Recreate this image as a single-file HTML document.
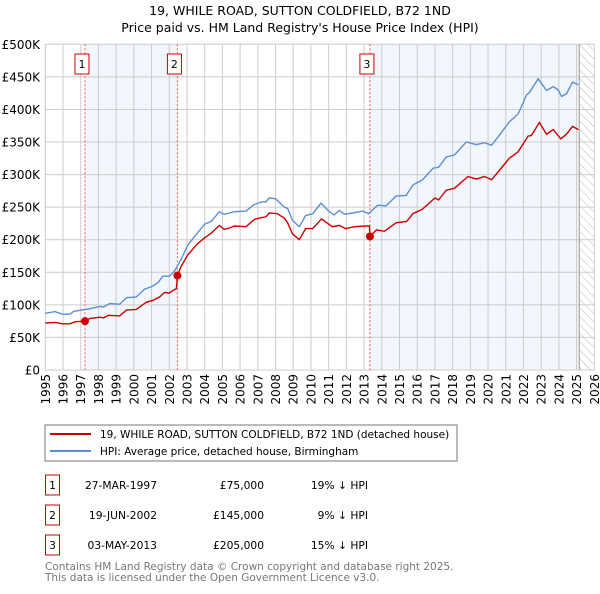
<!DOCTYPE html>
<html><head><meta charset="utf-8"><style>
body{margin:0;background:#fff;width:600px;height:590px;overflow:hidden;font-family:"DejaVu Sans","Liberation Sans",sans-serif;}
svg text{font-family:"DejaVu Sans","Liberation Sans",sans-serif;}
</style></head><body>
<svg id="c" width="600" height="590">
<defs><pattern id="hatch" width="6" height="6" patternUnits="userSpaceOnUse" patternTransform="rotate(-45)"><line x1="0" y1="0" x2="0" y2="6" stroke="#bbb" stroke-width="1"/></pattern></defs>
<text x="300" y="15" text-anchor="middle" font-size="12.5">19, WHILE ROAD, SUTTON COLDFIELD, B72 1ND</text>
<text x="300" y="32" text-anchor="middle" font-size="12.5">Price paid vs. HM Land Registry's House Price Index (HPI)</text>
<g id="plot"></g>
<rect x="45" y="425" width="412" height="36" fill="#fff" stroke="#777"/>
<line x1="50" y1="434" x2="91" y2="434" stroke="#cc0000" stroke-width="2"/>
<text x="100" y="438" font-size="10.5">19, WHILE ROAD, SUTTON COLDFIELD, B72 1ND (detached house)</text>
<line x1="50" y1="451" x2="91" y2="451" stroke="#5b8fd4" stroke-width="2"/>
<text x="100" y="455" font-size="10.5">HPI: Average price, detached house, Birmingham</text>
<g id="table" font-size="10.7"></g>
<text x="45" y="570" font-size="10.5" fill="#777">Contains HM Land Registry data © Crown copyright and database right 2025.</text>
<text x="45" y="581" font-size="10.5" fill="#777">This data is licensed under the Open Government Licence v3.0.</text>
</svg>
<script>
const hpiYears=[1995,1995.54,1996,1996.4,1996.6,1997.05,1997.5,1998.08,1998.3,1998.64,1999.2,1999.58,2000.14,2000.6,2001,2001.36,2001.64,2002,2002.3,2002.67,2003.05,2003.4,2004,2004.36,2004.83,2005.1,2005.4,2005.67,2006.33,2006.8,2007.2,2007.45,2007.65,2008,2008.5,2008.68,2008.96,2009.34,2009.7,2010.1,2010.57,2011.04,2011.3,2011.6,2011.9,2012.36,2012.92,2013.25,2013.77,2014.25,2014.8,2015.38,2015.75,2016.3,2016.9,2017.2,2017.64,2018.1,2018.77,2019.34,2019.8,2020.2,2020.66,2021.2,2021.7,2022.17,2022.36,2022.83,2023.3,2023.68,2023.96,2024.15,2024.43,2024.77,2025.1];
const hpiValues=[87,89.6,85.5,86,90,92,94,97.5,97,102,101,111,112,124,128,134,144,144,152,170,192,204,224,228,243,239,241,243,244,254,258,258,264,263,250,248,230,220,237,240,256,243,238,245,239,241,244,240,253,252,267,268,284,292,310,311,327,330,350,346,349,345,361,381,393,422,427,447,429,435,430,420,424,442,438];
const priceYears=[1995,1995.54,1996,1996.4,1996.67,1997.24,1997.5,1998.08,1998.3,1998.55,1999.2,1999.58,2000.14,2000.7,2001.08,2001.45,2001.73,2002,2002.2,2002.4,2002.46,2002.67,2003.05,2003.6,2004,2004.36,2004.83,2005.1,2005.4,2005.67,2006.33,2006.8,2007.2,2007.45,2007.65,2008.1,2008.5,2008.68,2008.96,2009.34,2009.7,2010.1,2010.6,2011.2,2011.6,2011.95,2012.45,2013.1,2013.3,2013.33,2013.7,2014.15,2014.8,2015.4,2015.75,2016.3,2017,2017.2,2017.64,2018.1,2018.87,2019.34,2019.8,2020.2,2020.66,2021.2,2021.7,2022.26,2022.45,2022.9,2023.3,2023.68,2024.1,2024.43,2024.77,2025.1];
const priceValues=[72,73,71,71,74,75,79,81,80,84,83,92,93,104,107,112,119,118,122,125,145,159,177,194,203,210,222,216,218,221,220,231,234,235,241,240,233,226,209,200,217,217,232,220,222,217,220,221,221,205,215,213,226,228,240,247,264,261,276,279,297,293,297,292,307,325,335,359,360,380,362,369,355,362,374,369];
const saleYears=[1997.24,2002.46,2013.33];
const saleValues=[75,145,205];
const saleLabels=["1","2","3"];
const saleDates=["27-MAR-1997","19-JUN-2002","03-MAY-2013"];
const salePrices=["£75,000","£145,000","£205,000"];
const saleDiffs=["19% ↓ HPI","9% ↓ HPI","15% ↓ HPI"];
const yTicks=[0,50,100,150,200,250,300,350,400,450,500];
const yTickLabels=["£0","£50K","£100K","£150K","£200K","£250K","£300K","£350K","£400K","£450K","£500K"];
const xTicks=[];for(let y=1995;y<=2026;y++)xTicks.push(y);

const L=45.3,R=594.3,T=44.3,B=370;
const xs=y=>L+(y-1995)/31*(R-L);
const ys=v=>B-v/500*(B-T);
const NS="http://www.w3.org/2000/svg";
const g=document.getElementById('plot');
function mk(tag,attrs,parent){const e=document.createElementNS(NS,tag);for(const k in attrs)e.setAttribute(k,attrs[k]);(parent||g).appendChild(e);return e;}
let e;
e=mk('rect',{x:xs(saleYears[0]),y:T,width:xs(saleYears[1])-xs(saleYears[0]),height:B-T,fill:'#f2f6fd'});


e=mk('rect',{x:xs(saleYears[2]),y:T,width:xs(2025.15)-xs(saleYears[2]),height:B-T,fill:'#f2f6fd'});


e=mk('rect',{x:xs(2025.15),y:T,width:R-xs(2025.15),height:B-T,fill:'url(#hatch)'});


xTicks.forEach(t=>{
 e=mk('line',{x1:xs(t),x2:xs(t),y1:T,y2:B,stroke:'#cccccc','stroke-width':1});
 
 
 e=mk('text',{x:0,y:0,'font-size':12,'text-anchor':'end',transform:`translate(${xs(t)+4.5},374) rotate(-90)`});
 e.textContent=t;
 
 
});
yTicks.forEach((t,i)=>{
 e=mk('line',{x1:L,x2:R,y1:ys(t),y2:ys(t),stroke:'#cccccc','stroke-width':1});
 
 
 e=mk('text',{x:40,y:ys(t)+4.5,'font-size':12,'text-anchor':'end'});
 e.textContent=yTickLabels[i];
 
 
});
e=mk('line',{x1:xs(2025.15),x2:xs(2025.15),y1:T,y2:B,stroke:'#999','stroke-width':1});


saleYears.forEach((s,i)=>{
 e=mk('line',{x1:xs(s),x2:xs(s),y1:T,y2:B,stroke:'#ee5555','stroke-width':1,'stroke-dasharray':'2,2'});
 
 
 e=mk('rect',{x:xs(s)-10,y:54,width:14,height:20,fill:'#fff',stroke:'#cc0000'});
 
 
 e=mk('text',{x:xs(s)-3,y:68,'font-size':11,'text-anchor':'middle'});
 e.textContent=saleLabels[i];
 
 
});
function path(xa,va){return xa.map((x,i)=>(i?'L':'M')+xs(x).toFixed(1)+','+ys(va[i]).toFixed(1)).join('');}
e=mk('path',{d:path(hpiYears,hpiValues),fill:'none',stroke:'#5b8fd4','stroke-width':1.4});


e=mk('path',{d:path(priceYears,priceValues),fill:'none',stroke:'#cc0000','stroke-width':1.4});


saleYears.forEach((s,i)=>{
 e=mk('circle',{cx:xs(s),cy:ys(saleValues[i]),r:4,fill:'#cc0000'});
 
 
});
const tb=document.getElementById('table');
saleLabels.forEach((l,i)=>{
 const y=483+i*30;
 e=mk('rect',{x:45.5,y:y-8,width:14,height:20,fill:'#fff',stroke:'#cc0000'},tb);
 
 
 e=mk('text',{x:52.5,y:y+6,'text-anchor':'middle'},tb);e.textContent=l;
 
 
 e=mk('text',{x:157,y:y+6,'text-anchor':'end'},tb);e.textContent=saleDates[i];
 
 
 e=mk('text',{x:264,y:y+6,'text-anchor':'end'},tb);e.textContent=salePrices[i];
 
 
 e=mk('text',{x:368,y:y+6,'text-anchor':'end'},tb);e.textContent=saleDiffs[i];
 
 
});
</script>
</body></html>
